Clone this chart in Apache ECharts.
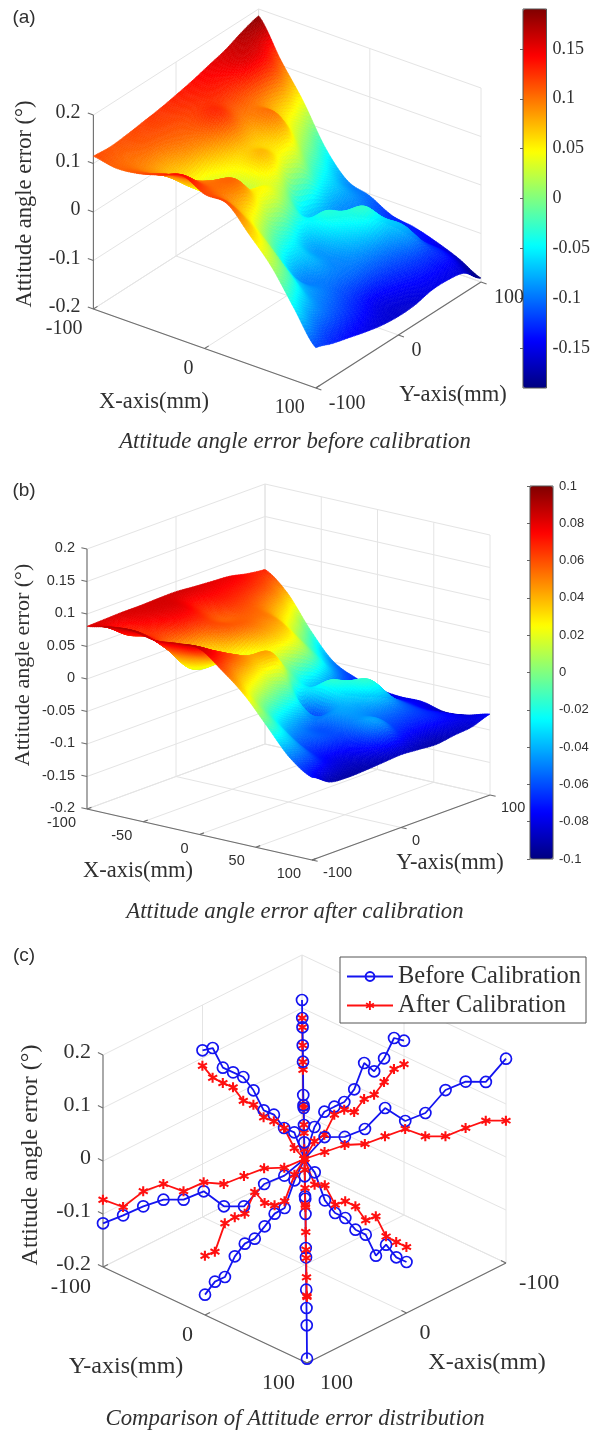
<!DOCTYPE html>
<html><head><meta charset="utf-8">
<style>html,body{margin:0;padding:0;background:#fff}#c{width:593px;height:1433px}</style>
<script src="https://cdn.jsdelivr.net/npm/echarts@6/dist/echarts.min.js"></script>
</head><body><div id="c"></div>
<script>
// ---- data ----
const gridX = [-100,-80,-60,-40,-20,0,20,40,60,80,100];
const gridY = [-100,-80,-60,-40,-20,0,20,40,60,80,100];
// rows: y = -100 ... 100, columns: x = -100 ... 100
const surfaceBefore = [
 [.115,.107,.112,.125,.140,.118,.115,.068,.018,-.050,-.117],
 [.112,.1005,.090,.100,.105,.0999,.070,.030,-.020,-.0863,-.130],
 [.115,.105,.0727,.055,.085,.1004,.025,-.035,-.0745,-.105,-.140],
 [.120,.110,.085,.0273,.040,.0556,-.020,-.0878,-.095,-.120,-.150],
 [.125,.115,.100,.050,.0272,.0404,-.0464,-.080,-.105,-.135,-.158],
 [.132,.1245,.1245,.0698,.0704,0,-.0736,-.0893,-.1031,-.1472,-.1616],
 [.140,.130,.105,.070,.041,-.0599,-.0335,-.060,-.100,-.140,-.160],
 [.150,.135,.100,.0947,.020,-.0751,-.060,-.0298,-.090,-.130,-.152],
 [.160,.150,.0845,.040,-.030,-.0884,-.085,-.075,-.0746,-.125,-.152],
 [.175,.143,.070,0,-.060,-.0892,-.105,-.115,-.125,-.1332,-.160],
 [.186,.111,.043,-.037,-.089,-.104,-.128,-.136,-.150,-.168,-.192]
];
const surfaceAfter = [
 [.081,.088,.090,.083,.086,.0855,.060,.030,-.010,-.050,-.073],
 [.082,.0665,.070,.055,.060,.0709,.040,0,-.030,-.058,-.090],
 [.083,.075,.0576,.020,.040,.0557,.020,-.030,-.0587,-.075,-.093],
 [.083,.080,.065,.0223,.030,.0424,0,-.0457,-.060,-.080,-.092],
 [.084,.080,.065,.050,.0121,.0404,-.0169,-.055,-.060,-.070,-.090],
 [.0843,.0698,.0566,.0553,.027,0,-.061,-.0453,-.0465,-.0459,-.0881],
 [.082,.072,.060,.050,.0257,-.0316,-.0177,-.035,-.050,-.065,-.090],
 [.080,.070,.055,.0413,.010,-.0436,-.030,-.0166,-.050,-.070,-.092],
 [.078,.065,.0405,.010,-.020,-.0614,-.050,-.050,-.0601,-.070,-.088],
 [.072,.0555,.020,-.020,-.050,-.0735,-.070,-.070,-.075,-.0753,-.085],
 [.0686,.040,-.008,-.048,-.066,-.0755,-.080,-.080,-.088,-.085,-.0755]
];
// spokes of panel (c): ten samples from the centre outwards
const rayDirs = {back:[-100,-100],front:[100,100],right:[-100,100],left:[100,-100],upLeft:[0,-100],upRight:[-100,0],lowLeft:[100,0],lowRight:[0,100]};
const beforeBack = [.013,.0272,.0408,.0273,.0283,.0727,.085,.1005,.0996,.1151];
const afterBack = [0,.0121,.0093,.0223,.0101,.0576,.0536,.0665,.082,.0811];
const beforeFront = [-.0142,-.0335,-.0194,-.0298,-.0755,-.0746,-.1171,-.1332,-.1474,-.1918];
const afterFront = [-.0016,-.0177,-.0307,-.0166,-.0453,-.0601,-.0574,-.0753,-.0914,-.0755];
const beforeRight = [.041,.041,.0555,.0947,.0698,.0845,.1275,.143,.142,.1855];
const afterRight = [.0128,.0257,.0272,.0413,.0547,.0405,.0401,.0555,.0689,.0686];
const beforeLeft = [-.031,-.0464,-.0882,-.0878,-.0591,-.0745,-.0741,-.0863,-.1029,-.1176];
const afterLeft = [-.016,-.0169,-.0309,-.0457,-.0421,-.0587,-.0445,-.058,-.0872,-.073];
const beforeUpLeft = [.0413,.0404,.0565,.0556,.0843,.1004,.1001,.0999,.1279,.1145];
const afterUpLeft = [.0117,.0404,.0439,.0424,.0572,.0557,.0718,.0709,.072,.0855];
const beforeUpRight = [.0509,.0704,.0704,.0698,.0843,.1245,.0994,.1145,.1434,.1289];
const afterUpRight = [.0239,.027,.0553,.0553,.0415,.0566,.0553,.0698,.0849,.0843];
const beforeLowLeft = [-.0308,-.0736,-.0748,-.0893,-.1031,-.1031,-.1176,-.1472,-.1465,-.1616];
const afterLowLeft = [-.0201,-.061,-.0591,-.0453,-.0151,-.0465,-.044,-.0459,-.0899,-.0881];
const beforeLowRight = [-.0161,-.0599,-.0747,-.0751,-.0881,-.0884,-.119,-.0892,-.104,-.1038];
const afterLowRight = [-.0394,-.0316,-.059,-.0436,-.044,-.0614,-.0448,-.0735,-.0751,-.0755];
const xyTicks = [-100,0,100];
const xTicksB = [-100,-50,0,50,100];
const zTicks = [-.2,-.1,0,.1,.2];
const zTicksB = [-.2,-.15,-.1,-.05,0,.05,.1,.15,.2];
const barTicksA = [-.15,-.1,-.05,0,.05,.1,.15];
const barTicksB = [-.1,-.08,-.06,-.04,-.02,0,.02,.04,.06,.08,.1];
const jet = ['#000080','#0000ff','#0080ff','#00ffff','#80ff80','#ffff00','#ff8000','#ff0000','#800000'];

// ---- layout ----
const SERIF = '"Liberation Serif"', SANS = '"Liberation Sans"';
const INK = '#303030';
const panelA = {O:[93.4,309],U:[222.4,79],V:[165.2,-106],zs:485,zMin:-.2,wallY:100,zAt:[-100,-100],xAxisY:-100,yAxisX:100,zTickDir:[-5,0],yTickDir:[5,0],xTickDir:[0,5]};
const panelB = {O:[87,809],U:[225,51],V:[178,-65],zs:650,zMin:-.2,wallY:100,zAt:[-100,-100],xAxisY:-100,yAxisX:100,zTickDir:[-5,0],yTickDir:[5,0],xTickDir:[0,5]};
const panelC = {O:[302,1167],U:[-199,100],V:[204,96],zs:530,zMin:-.2,wallY:-100,zAt:[100,-100],xAxisY:100,yAxisX:100,zTickDir:[0,-5],yTickDir:[-5,0],xTickDir:[0,-5]};
const project = (p,x,y,z)=>{const a=(x+100)/200,b=(y+100)/200;
  return [p.O[0]+a*p.U[0]+b*p.V[0], p.O[1]+a*p.U[1]+b*p.V[1]-(z-p.zMin)*p.zs];};

function jetColor(t){t=Math.max(0,Math.min(1,t))*(jet.length-1);const i=Math.min(jet.length-2,Math.floor(t)),f=t-i;
  const h=s=>[1,3,5].map(k=>parseInt(s.substr(k,2),16));const a=h(jet[i]),b=h(jet[i+1]);
  return 'rgb('+a.map((v,k)=>Math.round(v+(b[k]-v)*f)).join(',')+')';}

// smooth shading inside one read cell (Catmull-Rom patch)
function cr(a,b,c,d,t){return .5*(2*b+(c-a)*t+(2*a-5*b+4*c-d)*t*t+(3*b-a-3*c+d)*t*t*t);}
function patchZ(S,fi,fj){const n=S.length-1;const i=Math.min(n-1,Math.floor(fi)),j=Math.min(n-1,Math.floor(fj)),s=fi-i,t=fj-j;
  const c=(a)=>Math.max(0,Math.min(n,a));const r=[];
  for(let q=-1;q<=2;q++){const R=S[c(j+q)];r.push(cr(R[c(i-1)],R[i],R[c(i+1)],R[c(i+2)],s));}
  return cr(r[0],r[1],r[2],r[3],t);}

function surfaceSeries(p,S,range,name){
  const data=[];const n=S.length-1;
  for(let j=n-1;j>=0;j--)for(let i=0;i<n;i++)data.push([i,j,(S[j][i]+S[j][i+1]+S[j+1][i]+S[j+1][i+1])/4]);
  const N=12;
  return {type:'custom',name,coordinateSystem:'cartesian2d',xAxisIndex:0,yAxisIndex:0,silent:true,animation:false,z:3,clip:false,
    data,encode:{x:0,y:1},
    renderItem(params,api){
      const i=api.value(0),j=api.value(1),kids=[];
      const pt=(a,b)=>{const fi=i+a/N,fj=j+b/N,z=patchZ(S,fi,fj);
        const q=project(p,gridX[0]+fi*20,gridY[0]+fj*20,z);return {xy:api.coord(q),z};};
      const g=[];for(let a=0;a<=N;a++){g[a]=[];for(let b=0;b<=N;b++)g[a][b]=pt(a,b);}
      for(let a=0;a<N;a++)for(let b=N-1;b>=0;b--){
        const c=[g[a][b],g[a+1][b],g[a+1][b+1],g[a][b+1]];
        const col=jetColor(((c[0].z+c[1].z+c[2].z+c[3].z)/4+range)/(2*range));
        kids.push({type:'polygon',shape:{points:c.map(k=>k.xy)},style:{fill:col,stroke:col,lineWidth:.6}});
      }
      return {type:'group',children:kids};
    }};
}

function frameSeries(p,xT,yT,zT,name){
  const d=[]; const lo=-100,hi=100;
  const zLow=zT[0],zHigh=zT[zT.length-1];
  zT.forEach(z=>{d.push([lo,lo,z,lo,hi,z,0]);d.push([lo,p.wallY,z,hi,p.wallY,z,0]);});
  xT.forEach(x=>{d.push([x,p.wallY,zLow,x,p.wallY,zHigh,0]);d.push([x,lo,zLow,x,hi,zLow,0]);});
  yT.forEach(y=>{d.push([lo,y,zLow,lo,y,zHigh,0]);d.push([lo,y,zLow,hi,y,zLow,0]);});
  d.push([p.zAt[0],p.zAt[1],zLow,p.zAt[0],p.zAt[1],zHigh,1]);
  d.push([lo,p.xAxisY,zLow,hi,p.xAxisY,zLow,1]);
  d.push([p.yAxisX,lo,zLow,p.yAxisX,hi,zLow,1]);
  xT.forEach(x=>d.push([x,p.xAxisY,zLow,x,p.xAxisY+(p.xTickDir[1]),zLow,1]));
  yT.forEach(y=>d.push([p.yAxisX,y,zLow,p.yAxisX+p.yTickDir[0],y,zLow,1]));
  const zSpan=(z)=>d.push([p.zAt[0],p.zAt[1],z,p.zAt[0]+p.zTickDir[0],p.zAt[1]+p.zTickDir[1],z,1]);
  zT.forEach(zSpan);
  return {type:'custom',name,coordinateSystem:'cartesian2d',xAxisIndex:0,yAxisIndex:0,silent:true,animation:false,z:1,clip:false,
    data:d,encode:{x:0,y:1},
    renderItem(params,api){
      const v=k=>api.value(k),a=api.coord(project(p,v(0),v(1),v(2))),b=api.coord(project(p,v(3),v(4),v(5)));
      const axis=v(6)===1;
      return {type:'line',shape:{x1:a[0],y1:a[1],x2:b[0],y2:b[1]},style:{stroke:axis?'#6e6e6e':'#e4e4e4',lineWidth:axis?1.1:1}};
    }};
}

const STAR='path://M4 0L6 0L6 10L4 10ZM1.25 1.5L9.93 6.5L8.93 8.23L.25 3.23ZM.25 6.77L8.93 1.77L9.93 3.5L1.25 8.5Z';
const BLUE='#1414f0',RED='#ff1010';
function raySeries(dir,vals,before){
  const [dx,dy]=rayDirs[dir];
  const data=[{value:project(panelC,0,0,0),symbol:before?'none':STAR}];
  vals.forEach((z,k)=>{const t=(k+1)/10;data.push({value:project(panelC,dx*t,dy*t,z)});});
  return {type:'line',name:before?'Before Calibration':'After Calibration',xAxisIndex:0,yAxisIndex:0,data,animation:false,silent:true,clip:false,z:5,
    symbol:before?'circle':STAR,symbolSize:before?11:10,showSymbol:true,showAllSymbol:true,
    lineStyle:{color:before?BLUE:RED,width:1.8},
    itemStyle:before?{color:'rgba(255,255,255,0)',borderColor:BLUE,borderWidth:1.7}:{color:RED}};
}

// ---- text ----
const G=[];
function T(text,x,y,font,align,rot,fill){G.push({type:'text',x,y,rotation:rot||0,silent:true,z:20,
  style:{text,font,fill:fill||INK,textAlign:align||'center',textVerticalAlign:'middle'}});}
const fmt=v=>String(v);
function tickLabels(p,xT,yT,zT,font,zFont,off){
  xT.forEach(x=>{const q=project(p,x,p.xAxisY,zT[0]);T(fmt(x),q[0]+off.x[0],q[1]+off.x[1],font,'right');});
  yT.forEach(y=>{const q=project(p,p.yAxisX,y,zT[0]);T(fmt(y),q[0]+off.y[0],q[1]+off.y[1],font,off.yAlign||'left');});
  zT.forEach(z=>{const q=project(p,p.zAt[0],p.zAt[1],z);T(fmt(z),q[0]+off.z[0],q[1]+off.z[1],zFont,'right');});
}
tickLabels(panelA,xyTicks,xyTicks,zTicks,'20px '+SERIF,'20px '+SERIF,{x:[-11,20],y:[13,16],z:[-13,-2]});
tickLabels(panelB,xTicksB,xyTicks,zTicksB,'14.5px '+SANS,'14.5px '+SANS,{x:[-11,14],y:[11,13],z:[-12,-1]});
// panel (c): the x axis reads from the right corner, the y axis from the left corner
xyTicks.forEach(y=>{const q=project(panelC,100,y,-.2);T(fmt(y),q[0]-12,q[1]+20,'22px '+SERIF,'right');});
xyTicks.forEach(x=>{const q=project(panelC,x,100,-.2);T(fmt(x),q[0]+13,q[1]+20,'22px '+SERIF,'left');});
zTicks.forEach(z=>{const q=project(panelC,100,-100,z);T(fmt(z),q[0]-12,q[1]-3,'22px '+SERIF,'right');});

const UP=Math.PI/2;
T('(a)',24,18,'19px '+SANS);T('(b)',24,491,'19px '+SANS);T('(c)',24,956,'19px '+SANS);
T('Attitude angle error (°)',25,204,'22.5px '+SERIF,'center',UP);
T('X-axis(mm)',154,402,'22.5px '+SERIF);T('Y-axis(mm)',453,395,'22.5px '+SERIF);
T('Attitude angle error (°)',23,665,'22px '+SERIF,'center',UP);
T('X-axis(mm)',138,871,'22.5px '+SERIF);T('Y-axis(mm)',450,863,'22.5px '+SERIF);
T('Attitude angle error (°)',31,1155,'24px '+SERIF,'center',UP);
T('Y-axis(mm)',126,1367,'24px '+SERIF);T('X-axis(mm)',487,1363,'24px '+SERIF);

const cap=(text,y)=>({text,left:295,top:y,textAlign:'center',textVerticalAlign:'middle',padding:0,
  textStyle:{fontFamily:SERIF,fontStyle:'italic',fontWeight:'normal',fontSize:22.8,color:INK}});

// colour-bar frames: tick labels come from the axis
function barAxis(idx,ticks,font,size,range){return {type:'value',gridIndex:idx,position:'right',min:-range,max:range,
  splitLine:{show:false},axisLine:{show:false},
  axisTick:{show:true,inside:true,length:3,lineStyle:{color:'#666'},customValues:ticks},
  axisLabel:{show:true,customValues:ticks,formatter:fmt,fontFamily:font,fontSize:size,color:INK,margin:6,hideOverlap:false,showMinLabel:true,showMaxLabel:true}};}
const hiddenX=(idx)=>({type:'value',gridIndex:idx,min:0,max:1,show:false});

const series=[
  frameSeries(panelA,xyTicks,xyTicks,zTicks,'frame a'),
  frameSeries(panelB,xTicksB,xyTicks,zTicksB,'frame b'),
  frameSeries(panelC,xyTicks,xyTicks,zTicks,'frame c'),
  surfaceSeries(panelA,surfaceBefore,.19,'before'),
  surfaceSeries(panelB,surfaceAfter,.1,'after'),
  raySeries('upLeft',beforeUpLeft,true),raySeries('upLeft',afterUpLeft,false),
  raySeries('upRight',beforeUpRight,true),raySeries('upRight',afterUpRight,false),
  raySeries('right',beforeRight,true),raySeries('right',afterRight,false),
  raySeries('left',beforeLeft,true),raySeries('left',afterLeft,false),
  raySeries('lowLeft',beforeLowLeft,true),raySeries('lowLeft',afterLowLeft,false),
  raySeries('lowRight',beforeLowRight,true),raySeries('lowRight',afterLowRight,false),
  raySeries('back',afterBack,false),raySeries('back',beforeBack,true),
  raySeries('front',beforeFront,true),raySeries('front',afterFront,false)
];

const option={
  backgroundColor:'#fff',animation:false,
  title:[cap('Attitude angle error before calibration',442),cap('Attitude angle error after calibration',912),cap('Comparison of Attitude error distribution',1419)],
  grid:[
    {left:0,top:0,width:593,height:1433,show:false},
    {left:523,top:9,width:24,height:379,show:true,borderColor:'#555',borderWidth:1,backgroundColor:'transparent',z:6},
    {left:530,top:486,width:23,height:373,show:true,borderColor:'#555',borderWidth:1,backgroundColor:'transparent',z:6}
  ],
  xAxis:[{type:'value',gridIndex:0,min:0,max:593,show:false},hiddenX(1),hiddenX(2)],
  yAxis:[{type:'value',gridIndex:0,min:0,max:1433,inverse:true,show:false},
    barAxis(1,barTicksA,SERIF,18,.19),barAxis(2,barTicksB,SANS,13,.1)],
  visualMap:[
    {type:'continuous',seriesIndex:3,dimension:2,min:-.19,max:.19,left:523,top:9,itemWidth:24,itemHeight:379,padding:0,calculable:false,realtime:false,hoverLink:false,inRange:{color:jet},z:4},
    {type:'continuous',seriesIndex:4,dimension:2,min:-.1,max:.1,left:530,top:486,itemWidth:23,itemHeight:373,padding:0,calculable:false,realtime:false,hoverLink:false,inRange:{color:jet},z:4}
  ],
  legend:{data:['Before Calibration','After Calibration'],orient:'vertical',left:340,top:957,padding:[7,5,5,6],itemGap:4,itemWidth:46,itemHeight:11,
    borderColor:'#555',borderWidth:1,backgroundColor:'#fff',selectedMode:false,z:30,
    textStyle:{fontFamily:SERIF,fontSize:24.5,color:INK}},
  series,
  graphic:{elements:G}
};
const chart=echarts.init(document.getElementById('c'),null,{renderer:'canvas',width:593,height:1433});
chart.setOption(option);
</script></body></html>
